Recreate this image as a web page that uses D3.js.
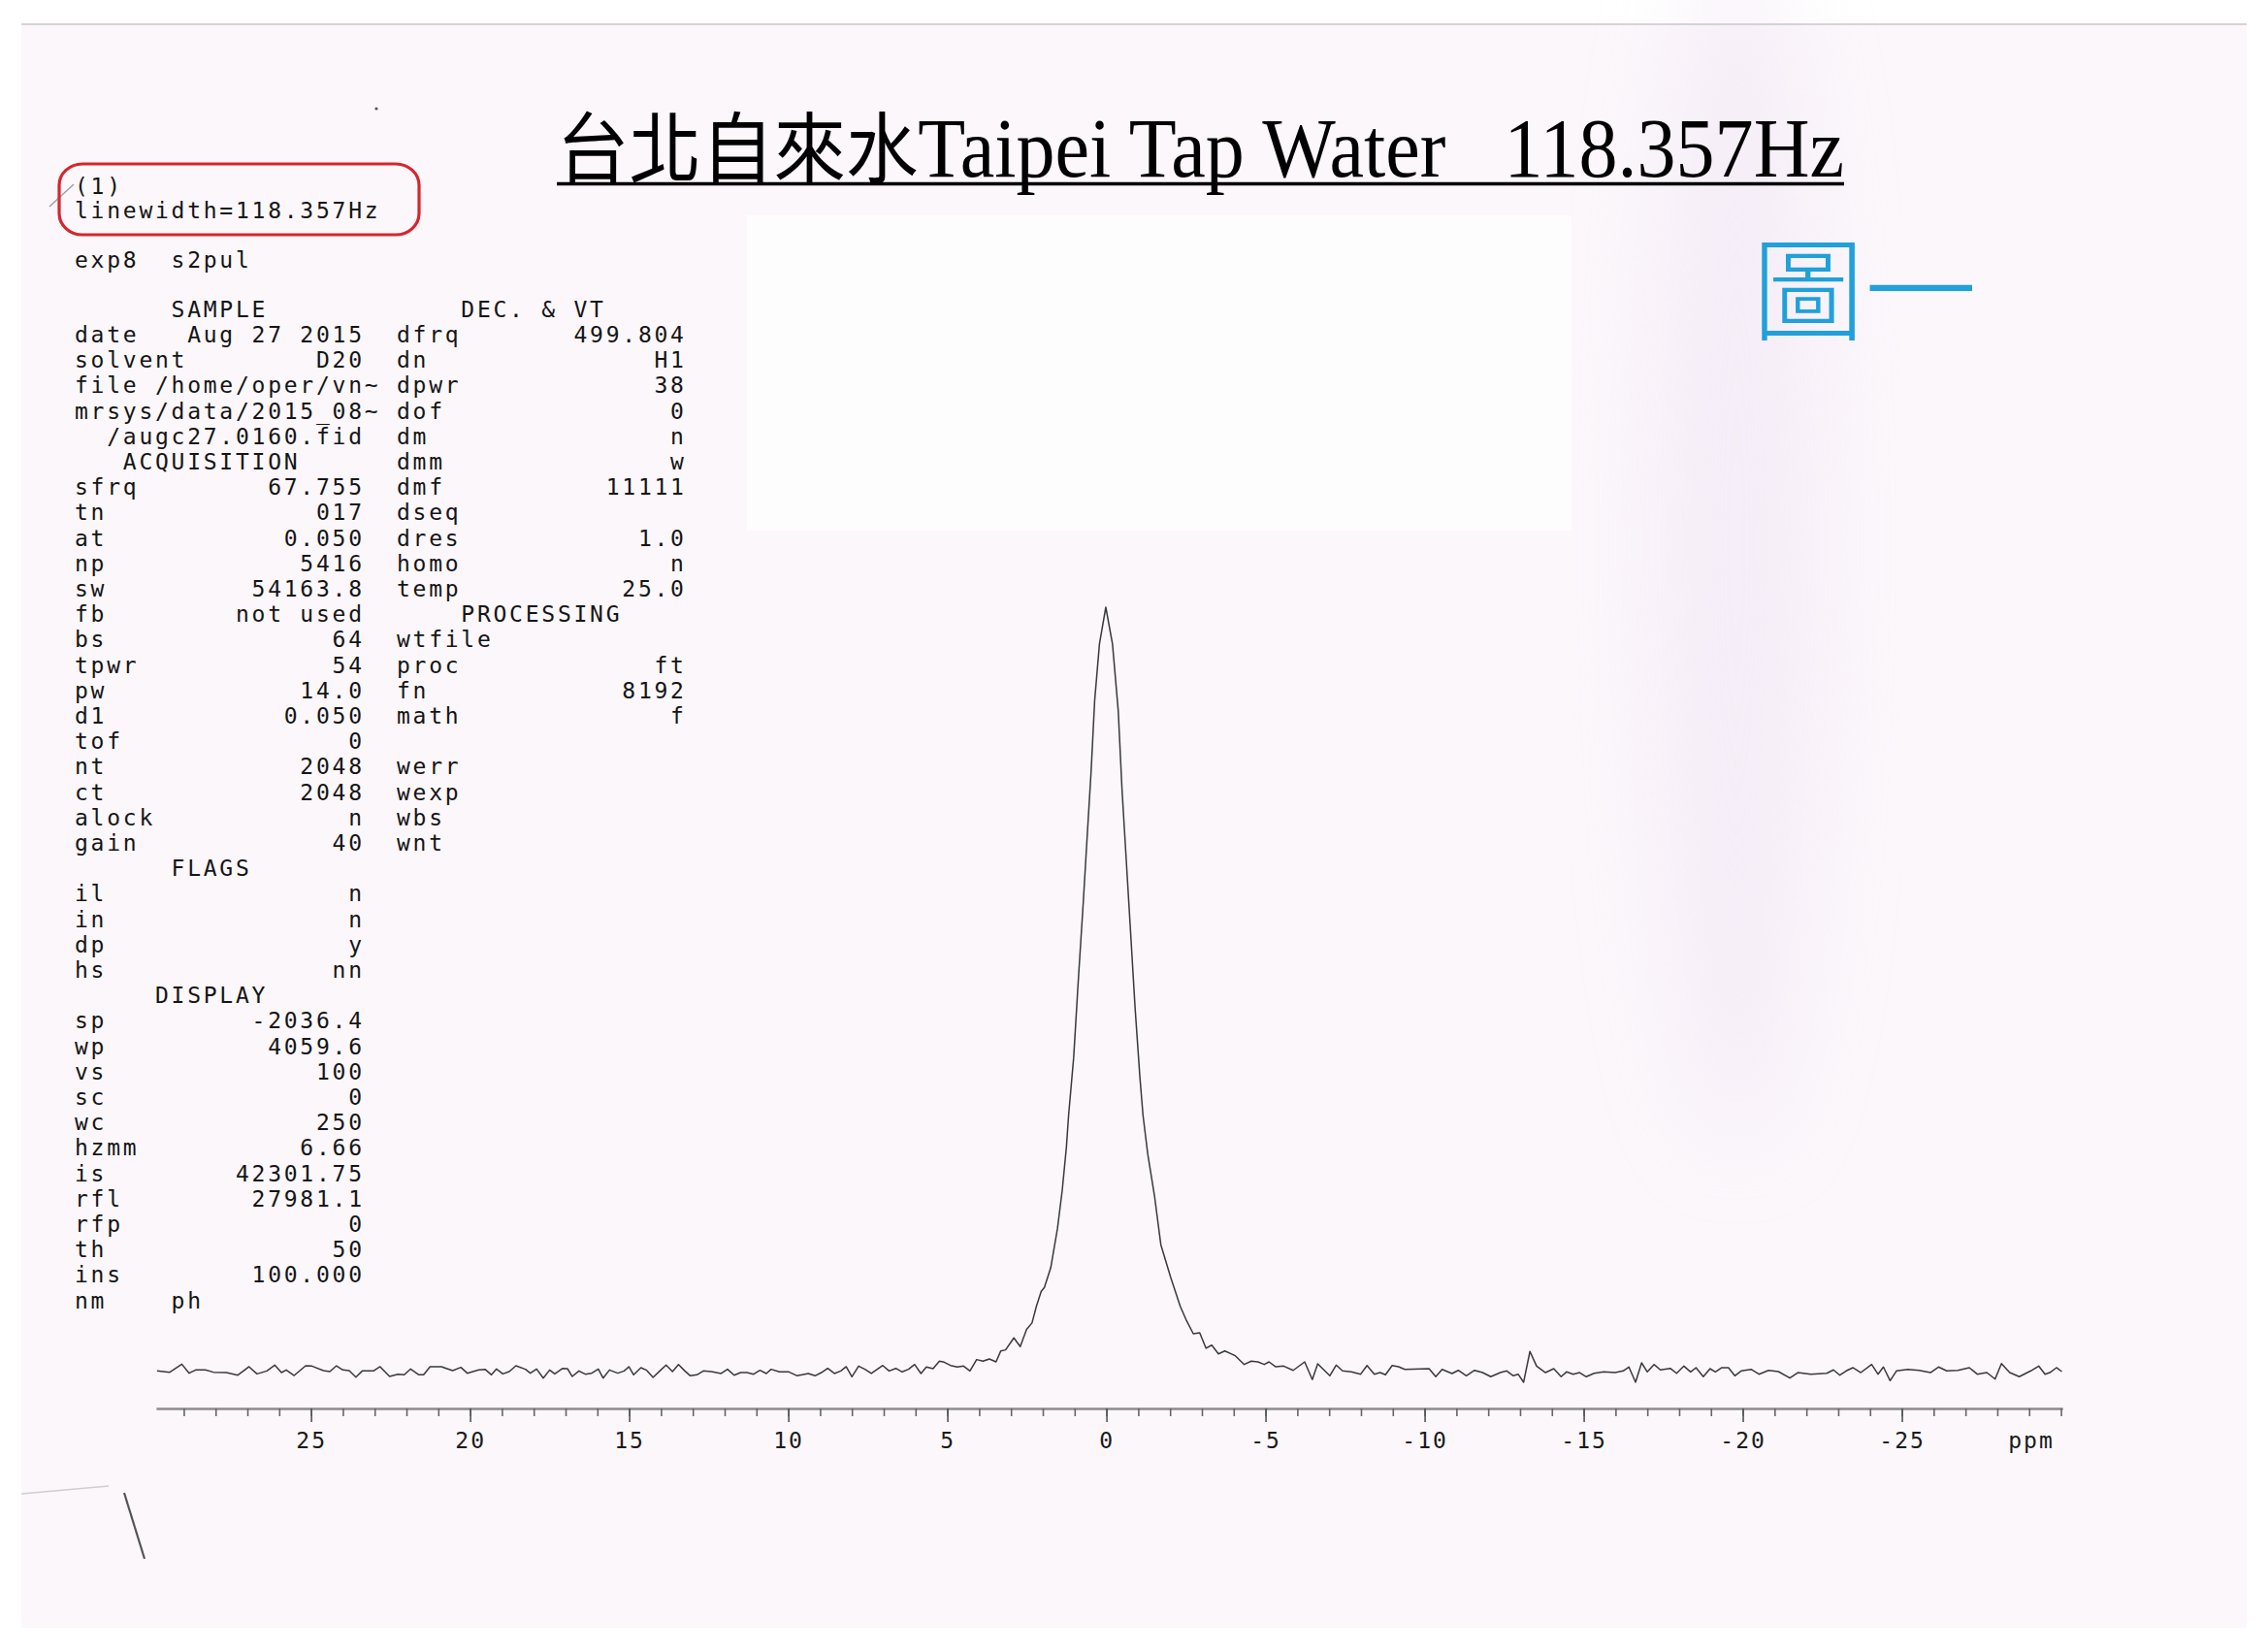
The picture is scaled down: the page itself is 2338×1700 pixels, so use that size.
<!DOCTYPE html>
<html>
<head>
<meta charset="utf-8">
<script src="https://cdn.jsdelivr.net/npm/d3@7"></script>
<style>
html,body{margin:0;padding:0;background:#ffffff;}
svg{display:block;}
</style>
</head>
<body>
<svg id="chart" width="2338" height="1700"></svg>
<script>
// ---------- DATA ----------
// chemical shift (ppm), intensity (peak = 100)
const baselineLeft = [
 [29.84,0.08],[29.44,-0.08],[29.06,0.97],[28.83,-0.21],[28.63,0.21],[28.32,0.21],[28.07,-0.08],[27.66,-0.13],
 [27.30,-0.47],[26.95,0.64],[26.70,-0.30],[26.39,0.08],[26.14,0.85],[25.93,-0.13],[25.78,0.21],[25.53,-0.51],
 [25.17,0.76],[24.97,0.72],[24.61,0.13],[24.41,0.00],[24.20,0.76],[24.00,0.21],[23.80,0.13],[23.59,-0.72],
 [23.39,0.08],[23.04,0.08],[22.83,0.64],[22.53,-0.64],[22.27,-0.34],[22.07,-0.42],[21.87,0.34],[21.61,-0.42],
 [21.46,-0.42],[21.26,0.64],[20.90,0.64],[20.55,0.13],[20.29,0.55],[20.09,-0.21],[19.73,0.21],[19.53,0.30],
 [19.33,-0.42],[19.17,0.34],[18.97,-0.30],[18.77,0.00],[18.56,0.76],[18.26,0.30],[18.11,-0.21],[17.91,0.34],
 [17.70,-0.85],[17.50,0.21],[17.34,-0.30],[17.09,0.42],[16.94,0.38],[16.79,-0.64],[16.58,0.08],[16.38,-0.34],
 [16.18,-0.21],[15.97,0.34],[15.82,-0.85],[15.62,0.21],[15.36,-0.21],[15.16,0.08],[15.01,0.64],
 [14.86,-0.42],[14.63,0.51],[14.45,0.17],[14.25,-0.76],[14.04,0.08],[13.84,0.85],[13.64,0.00],[13.45,0.93],
 [13.25,0.08],[13.08,-0.55],[12.87,-0.42],[12.67,0.08],[12.42,0.00],[12.11,-0.25],[11.91,0.30],[11.70,-0.47],
 [11.50,-0.13],[11.30,-0.13],[11.09,-0.34],[10.89,0.17],[10.69,-0.25],[10.54,0.30],[10.28,-0.04],[9.98,-0.04],
 [9.72,-0.55],[9.37,-0.25],[9.16,-0.55],[8.96,-0.13],[8.76,0.42],[8.55,-0.25],[8.35,0.08],[8.18,0.64],
 [8.00,-0.68],[7.79,0.72],[7.59,0.30],[7.39,-0.25],[7.03,0.80],[6.83,0.08],[6.62,0.42],[6.42,-0.04],
 [6.22,0.30],[6.03,0.93],[5.83,-0.25],[5.66,0.59],[5.45,0.38],[5.25,1.36],[5.10,1.23],[4.90,0.80],
 [4.69,0.59],[4.49,0.72],[4.29,0.08],[4.08,1.57],[3.88,1.36],[3.68,1.65],[3.47,1.27],[3.32,2.71],
 [3.17,2.84],[2.91,4.41],[2.71,3.26],[2.51,5.51],[2.34,6.36],[2.20,8.56],[2.05,10.5]
];
const peakRegion = [
 [1.95,11.0],[1.75,13.6],[1.54,18.7],[1.39,23.7],[1.26,29.3],[1.19,33.5],[1.03,41.1],[0.88,51.5],
 [0.73,61.3],[0.61,69.7],[0.48,78.7],[0.37,87.8],[0.22,95.2],[0.02,100.0],[-0.19,95.2],[-0.37,86.5],
 [-0.49,76.1],[-0.64,65.7],[-0.77,56.7],[-0.90,47.6],[-1.05,38.6],[-1.15,33.5],[-1.30,28.4],[-1.51,23.0],
 [-1.71,16.6],[-2.02,12.3],[-2.32,8.54],[-2.52,6.64],[-2.73,4.95],[-2.93,5.08],[-3.13,3.05],[-3.31,3.46],
 [-3.52,2.32],[-3.72,2.70],[-4.05,2.07],[-4.33,0.93],[-4.55,1.36],[-4.76,1.27],[-4.96,0.93],[-5.11,1.27],
 [-5.32,0.63],[-5.57,0.72],[-5.87,0.16]
];
const baselineRight = [
 [-6.23,1.27],[-6.47,-1.05],[-6.64,1.02],[-7.02,-0.55],[-7.22,0.85],[-7.42,0.09],[-7.70,-0.04],[-7.99,-0.34],
 [-8.19,0.80],[-8.42,-0.34],[-8.60,-0.13],[-8.77,-0.42],[-8.98,0.80],[-9.18,0.63],[-9.38,0.29],[-10.14,0.38],
 [-10.35,-0.67],[-10.55,0.29],[-10.86,-0.25],[-11.06,0.16],[-11.31,-0.55],[-11.57,0.16],[-11.82,-0.13],[-12.08,-0.67],
 [-12.38,-0.13],[-12.58,0.09],[-12.79,-0.55],[-12.94,-0.34],[-13.11,-1.40],[-13.31,2.63],[-13.52,0.72],[-13.80,-0.13],
 [-14.06,0.38],[-14.29,-0.67],[-14.46,-0.04],[-14.67,-0.34],[-14.87,-0.13],[-15.08,-0.67],[-15.33,-0.22],[-15.63,-0.04],
 [-15.99,-0.13],[-16.24,0.09],[-16.42,0.60],[-16.63,-1.40],[-16.82,1.14],[-17.00,-0.04],[-17.21,0.93],[-17.41,0.22],
 [-17.72,0.42],[-17.92,-0.22],[-18.15,0.72],[-18.36,-0.04],[-18.53,0.51],[-18.76,-0.67],[-18.97,0.38],[-19.14,-0.04],
 [-19.34,0.51],[-19.55,0.51],[-19.75,-0.55],[-19.95,0.09],[-20.26,0.29],[-20.51,-0.34],[-20.81,0.16],[-21.12,0.00],
 [-21.48,-0.85],[-21.73,-0.13],[-22.14,-0.34],[-22.64,-0.22],[-22.85,0.22],[-23.05,-0.47],[-23.25,0.09],[-23.46,0.51],
 [-23.71,-0.13],[-24.05,0.93],[-24.25,-0.34],[-24.42,0.60],[-24.63,-1.18],[-24.83,0.09],[-25.19,0.29],[-25.54,0.16],
 [-25.90,-0.13],[-26.15,0.60],[-26.41,0.09],[-26.76,0.16],[-27.12,0.51],[-27.37,-0.34],[-27.67,-0.13],[-27.93,-0.98],
 [-28.13,1.05],[-28.39,-0.13],[-28.69,-0.67],[-29.05,0.09],[-29.30,0.72],[-29.50,-0.34],[-29.65,-0.13],[-29.86,0.51],
 [-30.03,0.00]
];
const ppmRange = [29.87, -30.05];          // sp .. sp+wp in ppm
const majorTickValues = [25,20,15,10,5,0,-5,-10,-15,-20,-25];
const axisUnit = "ppm";

const titleCJK = "台北自來水";
const titleLatin = "Taipei Tap Water   118.357Hz";
const figureLabel = "圖一";

const headerLines = ["(1)", "linewidth=118.357Hz"];
const expLine = "exp8  s2pul";
const sectionLine = ["      SAMPLE", "    DEC. & VT"];
const paramRows = [
 ["date","Aug 27 2015","dfrq","499.804"],
 ["solvent","D20","dn","H1"],
 ["file /home/oper/vn~",null,"dpwr","38"],
 ["mrsys/data/2015_08~",null,"dof","0"],
 ["  /augc27.0160.fid",null,"dm","n"],
 ["   ACQUISITION",null,"dmm","w"],
 ["sfrq","67.755","dmf","11111"],
 ["tn","017","dseq",""],
 ["at","0.050","dres","1.0"],
 ["np","5416","homo","n"],
 ["sw","54163.8","temp","25.0"],
 ["fb","not used","    PROCESSING",null],
 ["bs","64","wtfile",""],
 ["tpwr","54","proc","ft"],
 ["pw","14.0","fn","8192"],
 ["d1","0.050","math","f"],
 ["tof","0","",""],
 ["nt","2048","werr",""],
 ["ct","2048","wexp",""],
 ["alock","n","wbs",""],
 ["gain","40","wnt",""],
 ["      FLAGS",null,"",""],
 ["il","n","",""],
 ["in","n","",""],
 ["dp","y","",""],
 ["hs","nn","",""],
 ["     DISPLAY",null,"",""],
 ["sp","-2036.4","",""],
 ["wp","4059.6","",""],
 ["vs","100","",""],
 ["sc","0","",""],
 ["wc","250","",""],
 ["hzmm","6.66","",""],
 ["is","42301.75","",""],
 ["rfl","27981.1","",""],
 ["rfp","0","",""],
 ["th","50","",""],
 ["ins","100.000","",""],
 ["nm    ph",null,"",""]
];

// ---------- DRAWING ----------
const W = 2338, H = 1700;
const svg = d3.select("#chart");

// paper background
const defs = svg.append("defs");
defs.append("filter").attr("id","soft").attr("x","-50%").attr("y","-50%").attr("width","200%").attr("height","200%")
  .append("feGaussianBlur").attr("stdDeviation", 45);

svg.append("rect").attr("width",W).attr("height",H).attr("fill","#ffffff");
svg.append("rect").attr("x",22).attr("y",26).attr("width",2294).attr("height",1652).attr("fill","#fbf7fb");
svg.append("ellipse").attr("cx",1790).attr("cy",560).attr("rx",85).attr("ry",620)
  .attr("fill","#f1e5f4").attr("opacity",0.55).attr("filter","url(#soft)");
svg.append("rect").attr("x",770).attr("y",222).attr("width",850).attr("height",325).attr("fill","#fefdfe");
svg.append("line").attr("x1",22).attr("x2",2316).attr("y1",25).attr("y2",25)
   .attr("stroke","#c9c4c9").attr("stroke-width",1.5);

// scanner marks
svg.append("line").attr("x1",51).attr("y1",213).attr("x2",76).attr("y2",190).attr("stroke","#a0a0a0").attr("stroke-width",1.5);
svg.append("line").attr("x1",22).attr("y1",1540).attr("x2",112).attr("y2",1532).attr("stroke","#cfcfcf").attr("stroke-width",1.5);
svg.append("line").attr("x1",128).attr("y1",1539).attr("x2",149).attr("y2",1607).attr("stroke","#555").attr("stroke-width",2.2);
svg.append("circle").attr("cx",388).attr("cy",112).attr("r",1.6).attr("fill","#555");

// scales
const x = d3.scaleLinear().domain(ppmRange).range([160.9, 2126.2]);
const y = d3.scaleLinear().domain([0, 100]).range([1414, 626]);

// spectrum
const spectrum = baselineLeft.concat(peakRegion, baselineRight);
const line = d3.line().x(d => x(d[0])).y(d => y(d[1]));
svg.append("path").datum(spectrum)
  .attr("d", line)
  .attr("fill","none")
  .attr("stroke","#3a3a3a")
  .attr("stroke-width",1.5)
  .attr("stroke-linejoin","round");

// axis
const axisY = 1452;
const labelFont = "'DejaVu Sans Mono', monospace";
const minorTicks = d3.range(29, -31, -1);
const axisG = svg.append("g").attr("transform",`translate(0,${axisY})`);
axisG.call(d3.axisBottom(x).tickValues(minorTicks).tickSize(8).tickSizeOuter(0).tickFormat(""));
axisG.select(".domain").attr("stroke","#8c8c8c").attr("stroke-width",2.4);
axisG.selectAll(".tick line").attr("stroke","#666").attr("stroke-width",1.6);

const majorG = svg.append("g").attr("transform",`translate(0,${axisY})`);
majorG.call(d3.axisBottom(x).tickValues(majorTickValues).tickSize(14).tickSizeOuter(0).tickFormat(d3.format("d")));
majorG.select(".domain").remove();
majorG.selectAll(".tick line").attr("stroke","#555").attr("stroke-width",1.6);
majorG.selectAll(".tick text")
  .attr("y", 41).attr("dy", 0)
  .attr("fill","#1a1a1a")
  .style("font-family",labelFont)
  .style("font-size","23px")
  .style("letter-spacing","2px")
  .text(d => d < 0 ? "-" + Math.abs(d) : String(d));
svg.append("text").attr("x", 2094).attr("y", axisY + 41)
  .attr("text-anchor","middle").attr("fill","#1a1a1a")
  .style("font-family",labelFont)
  .style("font-size","23px").style("letter-spacing","2px")
  .text(axisUnit);

// title
const title = svg.append("text")
  .attr("x", 574).attr("y", 182)
  .attr("textLength", 1327).attr("lengthAdjust","spacingAndGlyphs")
  .attr("fill","#000");
title.append("tspan").style("font-family","'Noto Sans CJK TC','Noto Sans CJK SC',sans-serif")
  .style("font-size","80px").text(titleCJK);
title.append("tspan").style("font-family","'Liberation Serif','Times New Roman',serif")
  .style("font-size","86px").attr("xml:space","preserve").style("white-space","pre").text(titleLatin);
svg.append("line").attr("x1",574).attr("x2",1901).attr("y1",189.5).attr("y2",189.5)
  .attr("stroke","#000").attr("stroke-width",3.5);

// figure label
svg.append("text").attr("x",1806).attr("y",342)
  .attr("fill","#21a0da")
  .style("font-family","'Noto Sans CJK TC','Noto Sans CJK SC',sans-serif")
  .style("font-size","116px").style("font-weight","300")
  .text(figureLabel);

// red highlight box
svg.append("rect").attr("x",61).attr("y",169).attr("width",371).attr("height",73)
  .attr("rx",24).attr("ry",22)
  .attr("fill","none").attr("stroke","#d6262d").attr("stroke-width",3.2);

// parameter text block
const textX = 77, charW = 16.6, fs = 23;
function field(label, value, width) {
  if (value === null) return label;
  if (label === "" && value === "") return "";
  if (value === "") return label;
  const n = Math.max(1, width - label.length - value.length);
  return label + " ".repeat(n) + value;
}
function mono(sel) {
  return sel.attr("fill","#151515")
    .attr("xml:space","preserve")
    .style("white-space","pre")
    .style("font-family",labelFont)
    .style("font-size", fs + "px")
    .style("letter-spacing", (charW - fs*0.602).toFixed(2) + "px");
}
mono(svg.append("text").attr("x",textX).attr("y",200).text(headerLines[0]));
mono(svg.append("text").attr("x",textX).attr("y",225).text(headerLines[1]));
mono(svg.append("text").attr("x",textX).attr("y",276).text(expLine));
mono(svg.append("text").attr("x",textX).attr("y",327).text(sectionLine[0].padEnd(20) + sectionLine[1]));

const rowY0 = 353, rowStep = 26.2;
paramRows.forEach((r, i) => {
  const left = field(r[0], r[1], 18).padEnd(20);
  const right = field(r[2], r[3], 18);
  mono(svg.append("text").attr("x", textX).attr("y", rowY0 + i*rowStep).text((left + right).replace(/\s+$/,"")));
});
</script>
</body>
</html>
